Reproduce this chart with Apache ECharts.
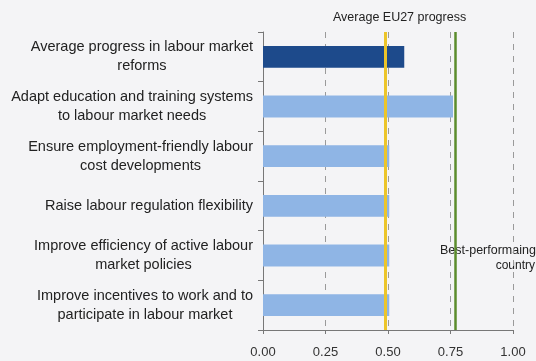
<!DOCTYPE html>
<html>
<head>
<meta charset="utf-8">
<script src="https://cdn.jsdelivr.net/npm/echarts@6/dist/echarts.min.js"></script>
<style>
  html, body { margin: 0; padding: 0; background: #f4f4f6; }
  #chart { width: 536px; height: 361px; }
</style>
</head>
<body>
<div id="chart"></div>
<script>
// Labour market reform areas (top to bottom)
const categories = [
  'Average progress in labour market\nreforms',
  'Adapt education and training systems\nto labour market needs',
  'Ensure employment-friendly labour\ncost developments',
  'Raise labour regulation flexibility',
  'Improve efficiency of active labour\nmarket policies',
  'Improve incentives to work and to\nparticipate in labour market'
];
// Progress score per area
const progress = [0.565, 0.76, 0.505, 0.505, 0.505, 0.505];
// Reference levels
const avgEU27 = 0.49;
const bestCountry = 0.772;
// Value axis ticks
const xTicks = [0, 0.25, 0.5, 0.75, 1.0];

const darkBlue = '#1d4a8b';
const lightBlue = '#8fb5e5';
const font = 'Liberation Sans, Arial, sans-serif';

const chart = echarts.init(document.getElementById('chart'), null, { renderer: 'canvas' });

chart.setOption({
  backgroundColor: '#f4f4f6',
  animation: false,
  grid: { left: 263, right: 23, top: 32, bottom: 31 },
  xAxis: {
    type: 'value',
    min: xTicks[0],
    max: xTicks[xTicks.length - 1],
    interval: 0.25,
    axisLine: { show: true, lineStyle: { color: '#777', width: 1 } },
    axisTick: { show: true, length: 4, lineStyle: { color: '#777' } },
    axisLabel: {
      margin: 16,
      color: '#333',
      fontFamily: font,
      fontSize: 13,
      formatter: v => v.toFixed(2)
    },
    splitLine: { show: true, lineStyle: { color: '#9a9a9a', type: [6, 6], width: 1 } }
  },
  yAxis: {
    type: 'category',
    inverse: true,
    data: categories,
    axisLine: { show: true, lineStyle: { color: '#777', width: 1 } },
    axisTick: { show: true, length: 5, lineStyle: { color: '#777' } },
    axisLabel: {
      margin: 10,
      formatter: v => '{c|' + v + '}',
      rich: {
        c: {
          align: 'center',
          color: '#222',
          fontFamily: font,
          fontSize: 14.5,
          lineHeight: 19
        }
      }
    },
    splitLine: { show: false }
  },
  series: [{
    type: 'bar',
    data: progress.map((v, i) => ({
      value: v,
      itemStyle: { color: i === 0 ? darkBlue : lightBlue }
    })),
    barCategoryGap: '56%',
    markLine: {
      silent: true,
      symbol: 'none',
      label: { show: false },
      data: [
        { xAxis: avgEU27, lineStyle: { color: '#ecc52a', width: 3, type: 'solid' } },
        { xAxis: bestCountry, lineStyle: { color: '#5b8c2c', width: 2.5, type: 'solid' } }
      ]
    }
  }],
  graphic: [
    {
      type: 'text',
      x: 333,
      y: 11,
      style: {
        text: 'Average EU27 progress',
        fill: '#222',
        font: '12.5px Liberation Sans, Arial, sans-serif'
      }
    },
    {
      type: 'text',
      x: 440,
      y: 244,
      style: {
        text: 'Best-performaing',
        fill: '#222',
        align: 'left',
        font: '12.5px Liberation Sans, Arial, sans-serif'
      }
    },
    {
      type: 'text',
      x: 535,
      y: 260,
      style: {
        text: 'country',
        fill: '#222',
        align: 'right',
        font: '12px Liberation Sans, Arial, sans-serif'
      }
    }
  ]
});
</script>
</body>
</html>
